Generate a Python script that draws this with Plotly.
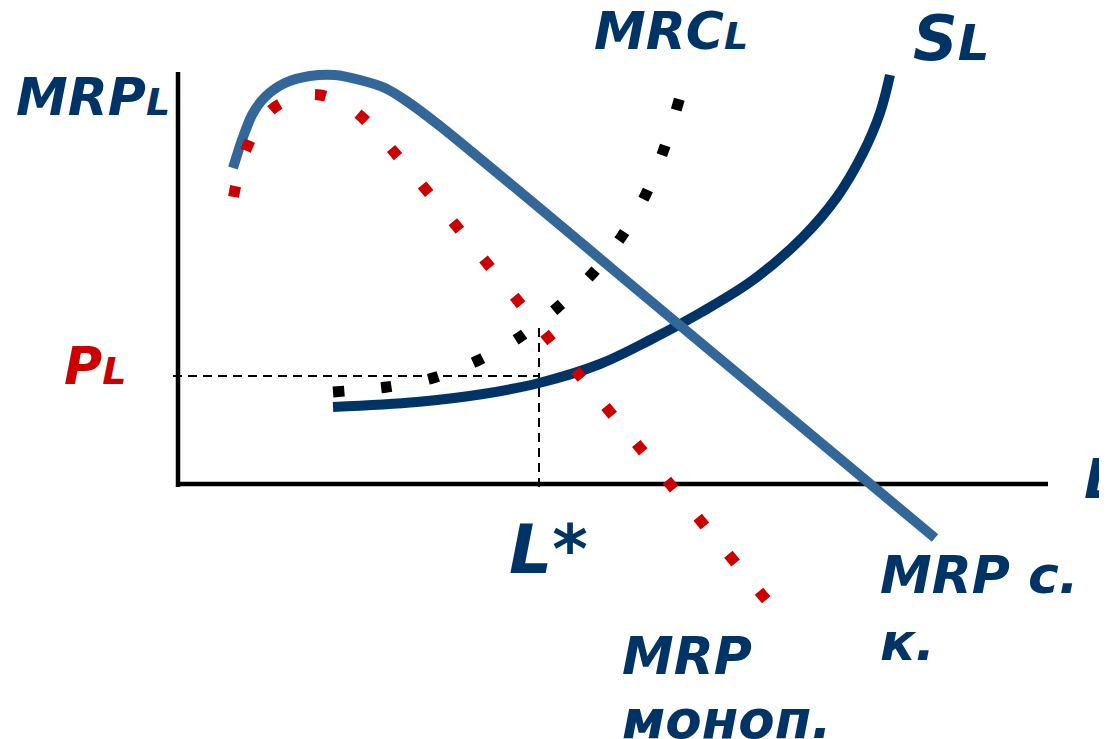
import plotly.graph_objects as go

# ---- data (L on x, wage / MRP on y) ----
s_l_x = [15.5, 23.9, 30.5, 36.1, 42.2, 47.2, 52.2, 57.5, 62.5, 65.9, 68.5, 70.2, 71.2]
s_l_y = [7.7, 8.2, 9.0, 10.1, 12.0, 14.4, 17.1, 20.4, 24.7, 28.7, 33.1, 37.1, 40.9]

mrp_ck_x = [5.5, 6.4, 7.4, 8.7, 10.7, 13.2, 15.7, 18.2, 20.7, 22.7, 26.2, 50.5, 75.7]
mrp_ck_y = [31.6, 34.4, 36.9, 38.7, 40.1, 40.8, 40.9, 40.4, 39.6, 38.4, 35.8, 15.6, -5.4]

mrp_mon_x = [5.5, 6.0, 6.8, 8.0, 9.7, 12.0, 14.2, 16.5, 18.7, 40.2, 59.0]
mrp_mon_y = [28.4, 30.9, 33.4, 35.9, 37.7, 38.8, 38.9, 38.1, 36.4, 10.8, -11.8]

mrc_x = [15.5, 20.9, 25.5, 30.1, 34.2, 38.0, 41.5, 44.4, 46.8, 48.6, 50.2]
mrc_y = [9.2, 9.7, 10.6, 12.4, 14.7, 17.7, 21.1, 24.8, 29.0, 33.5, 38.7]

axis_y_x = [0, 0]
axis_y_y = [-0.3, 41.2]
axis_x_x = [-0.2, 87.0]
axis_x_y = [0, 0]

p_l = 10.8
l_star = 36.1
pl_line_x = [-0.5, l_star]
pl_line_y = [p_l, p_l]
ls_line_x = [l_star, l_star]
ls_line_y = [15.6, -0.4]

NAVY = "#003366"
BLUE = "#336699"
RED = "#CC0000"

fig = go.Figure()

fig.add_trace(go.Scatter(x=axis_y_x, y=axis_y_y, mode="lines",
                         line=dict(color="black", width=4.5)))
fig.add_trace(go.Scatter(x=axis_x_x, y=axis_x_y, mode="lines",
                         line=dict(color="black", width=4.5)))
fig.add_trace(go.Scatter(x=pl_line_x, y=pl_line_y, mode="lines",
                         line=dict(color="black", width=2, dash="9px,6px")))
fig.add_trace(go.Scatter(x=ls_line_x, y=ls_line_y, mode="lines",
                         line=dict(color="black", width=2, dash="9px,6px")))

fig.add_trace(go.Scatter(x=s_l_x, y=s_l_y, mode="lines",
                         line=dict(color=NAVY, width=10, shape="spline", smoothing=1.0)))
fig.add_trace(go.Scatter(x=mrp_ck_x, y=mrp_ck_y, mode="lines",
                         line=dict(color=BLUE, width=10, shape="spline", smoothing=0.8)))
fig.add_trace(go.Scatter(x=mrp_mon_x, y=mrp_mon_y, mode="lines",
                         line=dict(color=RED, width=11, shape="spline", smoothing=0.8,
                                   dash="0px,3px,11px,34px")))
fig.add_trace(go.Scatter(x=mrc_x, y=mrc_y, mode="lines",
                         line=dict(color="black", width=11, shape="spline", smoothing=0.8,
                                   dash="11px,37px")))

FAM = "DejaVu Sans"


def ann(x, y, text, size, color=NAVY):
    fig.add_annotation(x=x, y=y, xref="x", yref="y", text=text, showarrow=False,
                       xanchor="left", yanchor="middle", borderpad=0,
                       font=dict(family=FAM, size=size, color=color,
                                 weight="bold", style="italic"))


ann(-16.3, 38.7, "MRP<span style='font-size:38px'>L</span>", 52)
ann(41.5, 45.3, "MRC<span style='font-size:38px'>L</span>", 52)
ann(73.4, 44.6, "S<span style='font-size:50px'>L</span>", 62)
ann(-11.5, 11.8, "P<span style='font-size:38px'>L</span>", 52, RED)
ann(33.0, -6.55, "L*", 68)
ann(90.5, 0.5, "L", 55)
ann(70.1, -9.1, "MRP c.", 52)
ann(70.1, -15.8, "к.", 52)
ann(44.3, -17.2, "MRP", 52)
ann(44.3, -23.5, "моноп.", 53)

fig.update_layout(
    width=1099, height=731,
    margin=dict(l=0, r=0, t=0, b=0),
    paper_bgcolor="white", plot_bgcolor="white",
    showlegend=False,
    xaxis=dict(visible=False, range=[-17.0, 92.9], fixedrange=True),
    yaxis=dict(visible=False, range=[-25.5, 47.6], fixedrange=True),
)

fig.write_html("out.html")
